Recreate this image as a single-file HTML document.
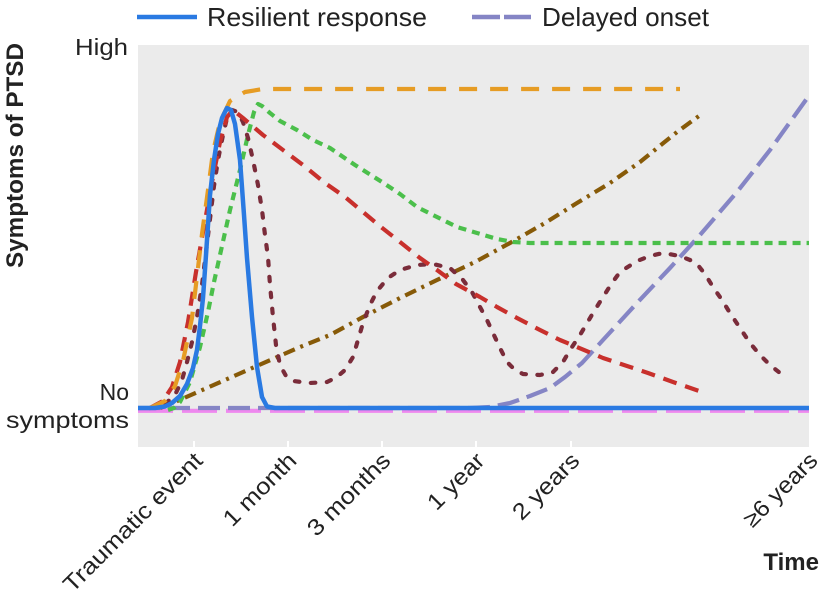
<!DOCTYPE html>
<html>
<head>
<meta charset="utf-8">
<style>
  html, body { margin: 0; padding: 0; background: #ffffff; }
  svg { display: block; }
  text { font-family: "Liberation Sans", sans-serif; fill: #222222; }
</style>
</head>
<body>
<svg width="824" height="608" viewBox="0 0 824 608" xmlns="http://www.w3.org/2000/svg">
  <!-- Legend -->
  <line x1="137" y1="17" x2="197" y2="17" stroke="#2a7ae2" stroke-width="4.5"/>
  <text x="207" y="26" font-size="26" textLength="220" lengthAdjust="spacingAndGlyphs">Resilient response</text>
  <line x1="472" y1="17" x2="500" y2="17" stroke="#8585c5" stroke-width="4.5"/>
  <line x1="504" y1="17" x2="531" y2="17" stroke="#8585c5" stroke-width="4.5"/>
  <text x="542" y="26" font-size="26" textLength="167" lengthAdjust="spacingAndGlyphs">Delayed onset</text>

  <!-- Plot background -->
  <rect x="138" y="45" width="671" height="402" fill="#ebebeb"/>

  <!-- ticks -->
  <g stroke="#ffffff" stroke-width="2">
    <line x1="194" y1="441" x2="194" y2="447"/>
    <line x1="288" y1="441" x2="288" y2="447"/>
    <line x1="382" y1="441" x2="382" y2="447"/>
    <line x1="476" y1="441" x2="476" y2="447"/>
    <line x1="571" y1="441" x2="571" y2="447"/>
  </g>

  <g fill="none" stroke-width="4.2" stroke-linejoin="round">
    <!-- Pink baseline -->
    <line x1="138" y1="410.8" x2="809" y2="410.8" stroke="#ee88ee" stroke-dasharray="35 9"/>

    <!-- Purple delayed onset -->
    <polyline stroke="#8585c5" stroke-dasharray="22 8"
      points="138,408 470,408 490,407 510,403 530,396 550,388 565,377 582,363 603,340 637,303 670,268 700,235 737,192 770,150 808,97"/>

    <!-- Brown dash-dot -->
    <polyline stroke="#875a08" stroke-dasharray="12 6 3 6"
      points="160,408 175,402 200,391 250,369 300,347 330,335 363,317 400,298 437,280 475,262 510,243 545,223 577,203 610,183 640,162 677,132 703,113"/>

    <!-- Green -->
    <polyline stroke="#4bbf4b" stroke-dasharray="8 6"
      points="168,410 174,408 180,402 190,382 200,347 208,312 214,282 220,255 230,210 240,170 248,135 254,112 258,104 262,106 270,113 280,121 297,130 313,140 330,148 355,165 382,182 400,194 417,207 437,217 457,227 477,233 497,239 513,242 530,243 809,243"/>

    <!-- Maroon dotted -->
    <polyline stroke="#7a2c3a" stroke-dasharray="4.5 11.5" stroke-linecap="round"
      points="150,408 165,404 175,395 182,380 187,362 192,342 197,317 202,285 206,252 210,219 214,186 218,160 223,135 227,118 232,110 238,112 243,122 248,138 253,160 258,185 262,210 265,235 268,257 270,285 273,317 276,345 280,365 286,376 293,381 310,383 327,382 337,377 345,370 353,357 358,340 363,323 370,305 377,291 388,278 400,270 417,265 433,264 450,268 463,280 472,292 480,307 487,320 493,333 500,348 507,362 515,370 523,374 540,375 553,372 563,362 570,350 580,335 593,313 603,297 612,283 620,272 637,261 650,256 663,253 680,256 690,260 697,264 705,274 713,287 722,300 730,313 740,328 750,343 760,355 770,365 785,377"/>

    <!-- Red dashed -->
    <polyline stroke="#c8302c" stroke-dasharray="14 9"
      points="150,408 163,401 172,387 180,362 188,322 196,272 203,232 212,182 220,142 227,117 233,110 243,118 263,135 283,150 303,165 325,183 345,197 381,227 400,242 420,258 437,270 456,284 480,297 497,307 517,318 540,330 560,340 577,347 603,358 627,366 648,373 673,382 702,392"/>

    <!-- Orange dashed -->
    <polyline stroke="#e69c24" stroke-dasharray="18 13"
      points="150,408 165,401 175,386 183,361 192,318 198,268 202,234 208,190 213,152 220,122 230,101 245,92 263,89 680,89"/>

    <!-- Blue solid -->
    <polyline stroke="#2a7ae2" stroke-width="4.5"
      points="138,408 155,408 165,406.5 172,403 180,396 187,384 193,368 197,350 200,326 203,298 206,255 210,195 214,160 218,134 222,118 227,108 231,110 235,124 240,160 244,215 247,258 252,317 257,367 262,397 267,406.5 275,408 809,408"/>
  </g>

  <!-- Y axis labels -->
  <text x="128" y="55" font-size="23" text-anchor="end" textLength="53" lengthAdjust="spacingAndGlyphs">High</text>
  <text x="129" y="400" font-size="23" text-anchor="end">No</text>
  <text x="129" y="428" font-size="23" text-anchor="end" textLength="123" lengthAdjust="spacingAndGlyphs">symptoms</text>

  <!-- Y axis title -->
  <text transform="translate(23,155.5) rotate(-90)" font-size="24" font-weight="bold" text-anchor="middle" textLength="225" lengthAdjust="spacingAndGlyphs">Symptoms of PTSD</text>

  <!-- X tick labels -->
  <text transform="translate(204,462) rotate(-45)" font-size="23" text-anchor="end" textLength="186" lengthAdjust="spacingAndGlyphs">Traumatic event</text>
  <text transform="translate(298,462) rotate(-45)" font-size="23" text-anchor="end" textLength="93" lengthAdjust="spacingAndGlyphs">1 month</text>
  <text transform="translate(392,462) rotate(-45)" font-size="23" text-anchor="end" textLength="107" lengthAdjust="spacingAndGlyphs">3 months</text>
  <text transform="translate(486,462) rotate(-45)" font-size="23" text-anchor="end" textLength="70" lengthAdjust="spacingAndGlyphs">1 year</text>
  <text transform="translate(581,462) rotate(-45)" font-size="23" text-anchor="end" textLength="84" lengthAdjust="spacingAndGlyphs">2 years</text>
  <text transform="translate(819,462) rotate(-45)" font-size="23" text-anchor="end" textLength="94" lengthAdjust="spacingAndGlyphs">≥6 years</text>

  <!-- X axis title -->
  <text x="819" y="570" font-size="24" font-weight="bold" text-anchor="end">Time</text>
</svg>
</body>
</html>
